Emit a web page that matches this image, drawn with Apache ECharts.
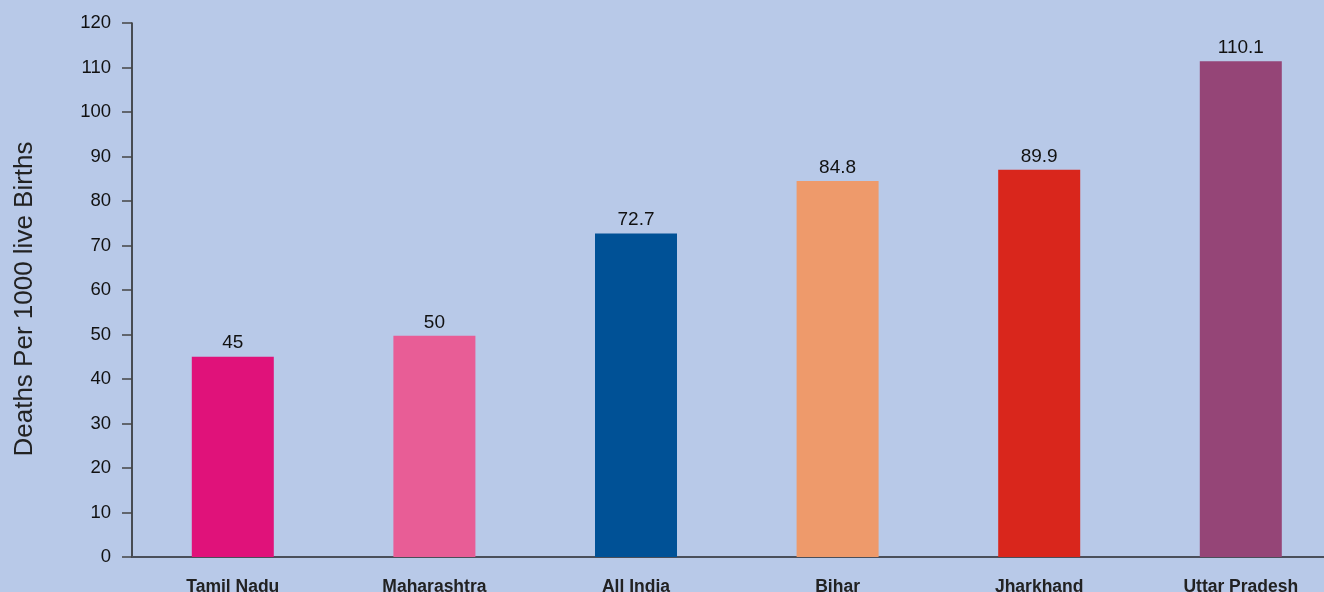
<!DOCTYPE html>
<html>
<head>
<meta charset="utf-8">
<script src="https://cdn.jsdelivr.net/npm/echarts@6/dist/echarts.min.js"></script>
<style>
html,body{margin:0;padding:0;background:#b8c9e8;}
#c{width:1324px;height:592px;}
</style>
</head>
<body>
<div id="c"></div>
<script>
const categories = ["Tamil Nadu", "Maharashtra", "All India", "Bihar", "Jharkhand", "Uttar Pradesh"];
const barValues = [45, 49.7, 72.7, 84.5, 87, 111.4];
const valueLabels = ["45", "50", "72.7", "84.8", "89.9", "110.1"];
const barColors = ["#e0127a", "#e85d96", "#005196", "#ee9a6b", "#d9261c", "#954577"];
const yTicks = [0, 10, 20, 30, 40, 50, 60, 70, 80, 90, 100, 110, 120];

const chart = echarts.init(document.getElementById('c'));
chart.setOption({
  backgroundColor: '#b8c9e8',
  animation: false,
  grid: { left: 132, width: 1209.6, top: 23, height: 534, containLabel: false, outerBoundsMode: 'none' },
  xAxis: {
    type: 'category',
    data: categories,
    axisLine: { lineStyle: { color: '#4a4f5a', width: 2 } },
    axisTick: { show: false },
    axisLabel: { color: '#222', fontFamily: 'Liberation Sans, Arial, sans-serif', fontWeight: 'bold', fontSize: 17.5, margin: 21 }
  },
  yAxis: {
    type: 'value',
    min: yTicks[0],
    max: yTicks[yTicks.length - 1],
    interval: 10,
    name: 'Deaths Per 1000 live Births',
    nameLocation: 'middle',
    nameGap: 94,
    nameTextStyle: { color: '#222', fontFamily: 'Liberation Sans, Arial, sans-serif', fontSize: 26, padding: [0, 18, 0, 0] },
    axisLine: { show: true, lineStyle: { color: '#222', width: 1.5 } },
    axisTick: { show: true, length: 10, lineStyle: { color: '#444', width: 1.5 } },
    axisLabel: { color: '#111', fontFamily: 'Liberation Sans, Arial, sans-serif', fontSize: 18.5, margin: 21 },
    splitLine: { show: false }
  },
  series: [{
    type: 'bar',
    barWidth: 82,
    data: barValues.map((v, i) => ({ value: v, itemStyle: { color: barColors[i] } })),
    label: {
      show: true,
      position: 'top',
      distance: 4,
      color: '#111',
      fontFamily: 'Liberation Sans, Arial, sans-serif',
      fontSize: 19,
      formatter: p => valueLabels[p.dataIndex]
    }
  }]
});
</script>
</body>
</html>
